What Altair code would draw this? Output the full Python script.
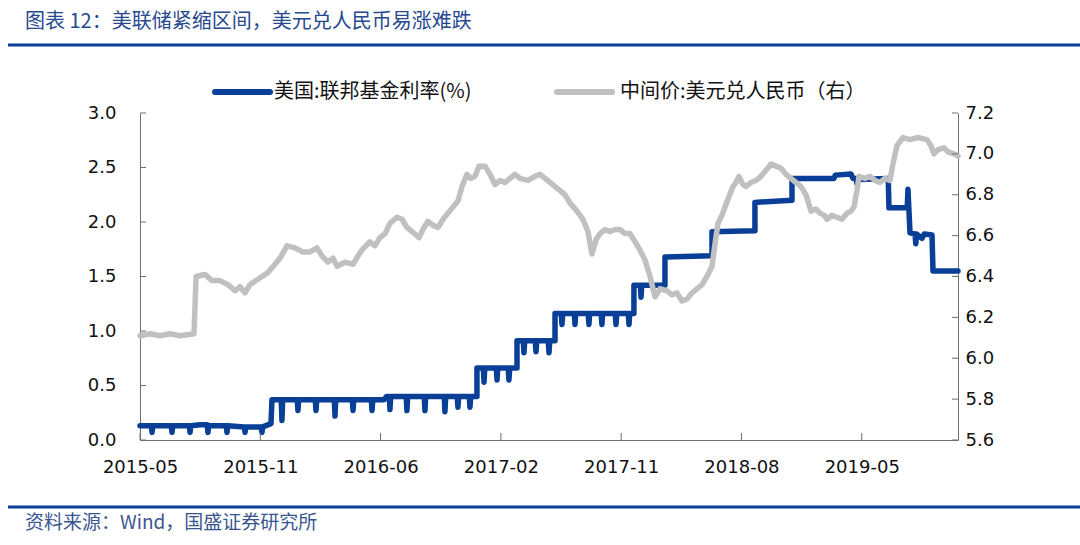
import altair as alt
import pandas as pd

# ---------------- data ----------------
TICK_T = [0, 100, 200, 300, 400, 500, 600]
TICK_LABELS = ["2015-05", "2015-11", "2016-06", "2017-02", "2017-11", "2018-08", "2019-05"]
LEFT_TICKS = [0.0, 0.5, 1.0, 1.5, 2.0, 2.5, 3.0]
RIGHT_TICKS = [5.6, 5.8, 6.0, 6.2, 6.4, 6.6, 6.8, 7.0, 7.2]

SERIES_FED = "美国:联邦基金利率(%)"
SERIES_CNY = "中间价:美元兑人民币（右）"

# US effective fed funds rate (x = trading-day index, y = %)
FED_POINTS = [
    (0, 0.13), (9.4, 0.13), (10, 0.07), (10.6, 0.13), (26, 0.13), (26.6, 0.07), (27.2, 0.13),
    (41, 0.13), (41.6, 0.07), (42.2, 0.13), (49.9, 0.14), (55.9, 0.14), (56.5, 0.07), (57.1, 0.13),
    (71.7, 0.13), (72.3, 0.07), (72.9, 0.13), (86.7, 0.12), (87.3, 0.07), (87.9, 0.12),
    (100.8, 0.12), (101.4, 0.07), (102, 0.12), (108.9, 0.15), (109.7, 0.37),
    (117.4, 0.37), (118, 0.18), (118.6, 0.37), (130.7, 0.37), (131.3, 0.27), (131.9, 0.37),
    (145.7, 0.37), (146.3, 0.27), (146.9, 0.37), (161.5, 0.37), (162.1, 0.22), (162.7, 0.37),
    (176.5, 0.37), (177.1, 0.27), (177.7, 0.37), (192.3, 0.37), (192.9, 0.27), (193.5, 0.37),
    (203, 0.37), (205, 0.40), (207.2, 0.40), (207.8, 0.28), (208.4, 0.40),
    (221.3, 0.40), (221.9, 0.27), (222.5, 0.40), (236.3, 0.40), (236.9, 0.27), (237.5, 0.40),
    (252.9, 0.40), (253.5, 0.26), (254.1, 0.40), (263.7, 0.40), (264.3, 0.30), (264.9, 0.40),
    (273.7, 0.40), (274.3, 0.30), (274.9, 0.40), (280.1, 0.40), (280.1, 0.66),
    (285.4, 0.66), (286, 0.53), (286.6, 0.66), (296.2, 0.66), (296.8, 0.55), (297.4, 0.66),
    (306.1, 0.66), (306.7, 0.55), (307.3, 0.66), (313.4, 0.66), (313.4, 0.91),
    (318.6, 0.91), (319.2, 0.80), (319.8, 0.91), (328.6, 0.91), (329.2, 0.81), (329.8, 0.91),
    (339.4, 0.91), (340, 0.80), (340.6, 0.91), (345, 0.91), (345, 1.16),
    (350.2, 1.16), (350.8, 1.06), (351.4, 1.16), (361, 1.16), (361.6, 1.06), (362.2, 1.16),
    (372.6, 1.16), (373.2, 1.06), (373.8, 1.16), (383.4, 1.16), (384, 1.06), (384.6, 1.16),
    (395.1, 1.16), (395.7, 1.06), (396.3, 1.16), (405.9, 1.16), (406.5, 1.06), (407.1, 1.16),
    (410.6, 1.16), (410.6, 1.42), (415.9, 1.42), (416.5, 1.31), (417.1, 1.42),
    (436.4, 1.42), (436.4, 1.68), (475.5, 1.69), (475.5, 1.91), (511.2, 1.92), (511.2, 2.18),
    (542, 2.20), (542, 2.40), (577, 2.40), (578, 2.43), (591, 2.44), (592.7, 2.40),
    (595.5, 2.40), (596, 2.35), (596.5, 2.39), (622, 2.40), (622.6, 2.13), (637.8, 2.13),
    (638.4, 2.30), (640.1, 1.90), (644.3, 1.89), (644.9, 1.80), (645.5, 1.89), (650, 1.85),
    (652, 1.89), (658.4, 1.88), (659.2, 1.55), (680, 1.55),
]

# USD/CNY central parity (right axis)
CNY_T = [0, 8.3, 16.6, 24.9, 33.3, 44.9, 46.6, 54.0, 59.9, 66.5, 73.2, 79.0, 83.1, 87.3, 91.4,
         96.4, 101.4, 106.4, 112.2, 116.4, 122.2, 128.8, 135.5, 141.3, 147.1, 151.3, 156.3,
         160.4, 163.8, 170.4, 177.1, 181.2, 184.5, 191.2, 195.3, 199.5, 203.7, 207.8, 213.6,
         217.8, 221.9, 226.1, 232.0, 235.2, 239.4, 243.6, 247.7, 251.9, 256.0, 260.2, 264.3,
         267.7, 271.8, 275.1, 278.5, 281.8, 286.8, 290.9, 295.1, 299.3, 303.4, 307.6, 311.7,
         315.9, 322.5, 328.3, 332.5, 336.7, 340.8, 345.0, 349.1, 353.3, 357.4, 363.3, 368.2,
         372.4, 375.7, 379.1, 382.4, 386.5, 390.7, 394.8, 399.0, 403.2, 407.3, 411.5, 415.6,
         419.8, 424.0, 428.1, 432.3, 438.1, 442.2, 446.4, 450.5, 454.7, 458.9, 463.0, 467.2,
         471.3, 475.5, 478.0, 480.5, 483.8, 486.3, 489.6, 492.9, 495.4, 497.9, 501.2, 503.7,
         507.9, 512.1, 516.2, 520.4, 524.5, 528.7, 532.8, 537.0, 541.1, 545.3, 549.5, 553.6,
         557.8, 561.9, 565.3, 568.6, 571.1, 575.2, 579.4, 583.5, 587.7, 591.0, 593.5, 596.0,
         597.7, 602.7, 606.8, 611.0, 615.1, 619.3, 623.4, 625.9, 629.3, 634.2, 640.1, 646.7,
         654.2, 657.5, 660.0, 663.3, 668.3, 671.7, 676.6, 680.0]
CNY_V = [6.11, 6.12, 6.11, 6.12, 6.11, 6.12, 6.40, 6.41, 6.38, 6.38, 6.36, 6.33, 6.35, 6.32, 6.36,
         6.38, 6.40, 6.42, 6.46, 6.49, 6.55, 6.54, 6.52, 6.52, 6.54, 6.50, 6.47,
         6.49, 6.45, 6.47, 6.46, 6.50, 6.53, 6.57, 6.55, 6.59, 6.61, 6.66, 6.69,
         6.68, 6.64, 6.62, 6.59, 6.63, 6.67, 6.65, 6.64, 6.68, 6.71, 6.74, 6.77,
         6.84, 6.90, 6.88, 6.89, 6.94, 6.94, 6.90, 6.85, 6.87, 6.86, 6.88, 6.90,
         6.88, 6.87, 6.89, 6.90, 6.88, 6.86, 6.84, 6.82, 6.80, 6.76, 6.72, 6.68,
         6.62, 6.51, 6.58, 6.61, 6.63, 6.62, 6.63, 6.63, 6.61, 6.61, 6.57, 6.53,
         6.48, 6.40, 6.30, 6.34, 6.33, 6.31, 6.32, 6.28, 6.29, 6.32, 6.34, 6.36,
         6.40, 6.45, 6.56, 6.66, 6.70, 6.74, 6.79, 6.84, 6.86, 6.89, 6.85, 6.84,
         6.86, 6.87, 6.89, 6.92, 6.95, 6.94, 6.93, 6.90, 6.88, 6.86, 6.84, 6.80,
         6.72, 6.73, 6.71, 6.70, 6.68, 6.70, 6.69, 6.68, 6.71, 6.72, 6.74, 6.82,
         6.89, 6.88, 6.89, 6.87, 6.86, 6.88, 6.87, 6.95, 7.04, 7.08, 7.07, 7.08,
         7.07, 7.04, 7.00, 7.02, 7.03, 7.01, 7.00, 6.99]

TITLE = "图表 12：美联储紧缩区间，美元兑人民币易涨难跌"
SOURCE = "资料来源：Wind，国盛证券研究所"

# ---------------- styles ----------------
BLUE = "#0A3F98"
GRAY = "#C0C0C0"
AXIS_COLOR = "#6E6E6E"
CJK = "Noto Sans CJK SC"
NUM_FONT = "DejaVu Sans"
NUM_SIZE = 18
W, H = 818, 327

fed_df = pd.DataFrame(FED_POINTS, columns=["t", "v"])
fed_df["i"] = range(len(fed_df))
cny_df = pd.DataFrame({"t": CNY_T, "v": CNY_V})
cny_df["i"] = range(len(cny_df))

x_scale = alt.Scale(domain=[0, 680], nice=False, zero=False)
yl_scale = alt.Scale(domain=[0, 3.0], nice=False)
yr_scale = alt.Scale(domain=[5.6, 7.2], nice=False, zero=False)

label_expr = "[" + ",".join("'" + s + "'" for s in TICK_LABELS) + "][floor(datum.value/100 + 0.5)]"

x_axis = alt.Axis(values=TICK_T, labelExpr=label_expr, ticks=False, labelPadding=18,
                  labelFlush=False, labelOverlap=False,
                  domainColor=AXIS_COLOR, labelFont=NUM_FONT, labelFontSize=NUM_SIZE,
                  labelColor="#111111", grid=False, title=None, orient="bottom")

fed = alt.Chart(fed_df).mark_line(color=BLUE, strokeWidth=5.5, strokeJoin="round",
                                  strokeCap="round").encode(
    x=alt.X("t:Q", scale=x_scale, axis=x_axis),
    y=alt.Y("v:Q", scale=yl_scale,
            axis=alt.Axis(orient="left", values=LEFT_TICKS, format=".1f", ticks=False,
                          labelPadding=24, domainColor=AXIS_COLOR, labelFont=NUM_FONT,
                          labelFontSize=NUM_SIZE, labelColor="#111111", grid=False, title=None,
                          labelFlush=False)),
    order=alt.Order("i:Q"),
)

cny = alt.Chart(cny_df).mark_line(color=GRAY, strokeWidth=5.5, strokeJoin="round",
                                  strokeCap="round").encode(
    x=alt.X("t:Q", scale=x_scale, axis=x_axis),
    y=alt.Y("v:Q", scale=yr_scale,
            axis=alt.Axis(orient="right", values=RIGHT_TICKS, format=".1f", ticks=False,
                          labelPadding=7, domainColor=AXIS_COLOR, labelFont=NUM_FONT,
                          labelFontSize=NUM_SIZE, labelColor="#111111", grid=False, title=None,
                          labelFlush=False)),
    order=alt.Order("i:Q"),
)

# inward tick marks
lt_df = pd.DataFrame({"v": LEFT_TICKS})
rt_df = pd.DataFrame({"v": RIGHT_TICKS})
xt_df = pd.DataFrame({"t": TICK_T})

left_ticks = alt.Chart(lt_df).mark_rule(color=AXIS_COLOR, strokeWidth=1).encode(
    y=alt.Y("v:Q", scale=yl_scale, axis=None), x=alt.value(0), x2=alt.value(6))
right_ticks = alt.Chart(rt_df).mark_rule(color=AXIS_COLOR, strokeWidth=1).encode(
    y=alt.Y("v:Q", scale=yr_scale, axis=None), x=alt.value(W - 6), x2=alt.value(W))
x_ticks = alt.Chart(xt_df).mark_rule(color=AXIS_COLOR, strokeWidth=1).encode(
    x=alt.X("t:Q", scale=x_scale, axis=x_axis), y=alt.value(H - 7), y2=alt.value(H))

# legend (manual)
leg_df = pd.DataFrame({"name": [SERIES_FED, SERIES_CNY], "col": [BLUE, GRAY],
                       "x0": [75, 417], "x1": [130, 472], "xt": [134, 480]})
leg_lines = alt.Chart(leg_df).mark_rule(strokeWidth=6, strokeCap="round").encode(
    x=alt.X("x0:Q", scale=None), x2="x1:Q", y=alt.value(-21),
    color=alt.Color("col:N", scale=None))
leg_text = alt.Chart(leg_df).mark_text(align="left", baseline="middle", font=CJK,
                                       fontSize=20, color="#111111").encode(
    x=alt.X("xt:Q", scale=None), y=alt.value(-21), text="name:N")

# title / source
hdr_df = pd.DataFrame({"title": [TITLE], "src": [SOURCE]})
title_text = alt.Chart(hdr_df).mark_text(align="left", baseline="middle", font=CJK,
                                         fontSize=20, color="#27498F").encode(
    x=alt.value(-115), y=alt.value(-91), text="title:N")
title_rule = alt.Chart(hdr_df).mark_rule(color=BLUE, strokeWidth=3).encode(
    x=alt.value(-132), x2=alt.value(940), y=alt.value(-68))
src_rule = alt.Chart(hdr_df).mark_rule(color=BLUE, strokeWidth=3).encode(
    x=alt.value(-132), x2=alt.value(940), y=alt.value(394))
src_text = alt.Chart(hdr_df).mark_text(align="left", baseline="middle", font=CJK,
                                       fontSize=19, color="#3A568F").encode(
    x=alt.value(-115), y=alt.value(410), text="src:N")

chart = alt.layer(
    fed, cny, left_ticks, right_ticks, x_ticks, leg_lines, leg_text,
    title_text, title_rule, src_rule, src_text,
).resolve_scale(y="independent").properties(
    width=W, height=H,
    autosize=alt.AutoSizeParams(type="none"),
    padding={"left": 140, "top": 113, "right": 122, "bottom": 105},
    background="white",
).configure_view(stroke=None)

chart.save("out.html", embed_options={"renderer": "svg", "actions": False})
